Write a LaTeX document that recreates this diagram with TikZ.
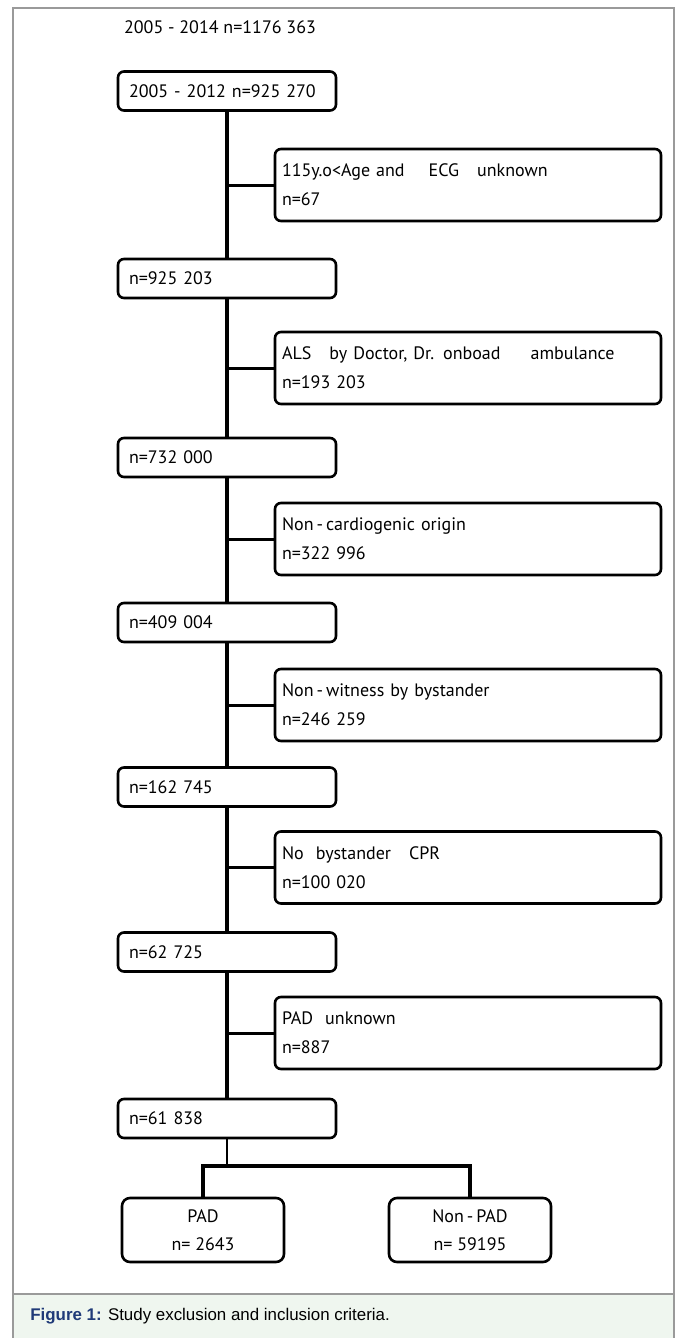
\documentclass[tikz,border=0pt]{standalone}
\usepackage{fontspec}
\setmainfont{PT Sans}
\newfontfamily\capfont{Liberation Sans}

\definecolor{capblue}{HTML}{1F3A78}
\definecolor{capgreen}{HTML}{EFF6EF}
\definecolor{framegray}{HTML}{9A9A9A}

\tikzset{
  mainbox/.style={draw, line width=1.3pt, rounded corners=3pt, text width=98pt,
    inner xsep=5.5pt, minimum height=19.5pt, align=left,
    font=\fontsize{9}{10}\selectfont},
  exbox/.style={draw, line width=1.3pt, rounded corners=3pt, text width=186pt,
    inner xsep=3.5pt, minimum height=36pt, align=left,
    font=\fontsize{9}{14.5}\selectfont},
  endbox/.style={draw, line width=1.3pt, rounded corners=4pt, minimum width=81pt,
    minimum height=32pt, align=center, font=\fontsize{9}{14}\selectfont},
  spine/.style={line width=2pt},
  branch/.style={line width=1.5pt},
}

\begin{document}
\begin{tikzpicture}[x=0.5pt,y=-0.5pt]

    \useasboundingbox (0,0) rectangle (676,1338);

    % Frame and caption band
    \fill[capgreen] (13,1294) rectangle (674,1338);
    \draw[framegray, line width=0.8pt] (13,1338) -- (13,8) -- (674,8) -- (674,1338);
    \draw[framegray, line width=0.8pt] (13,1294) -- (674,1294);
    \node[anchor=west, inner sep=0pt, font=\capfont\fontsize{8.45}{10}\selectfont] (caption) at (30,1316)
      {\textbf{\color{capblue}Figure 1:} Study exclusion and inclusion criteria.};

    % Whole period
    \node[font=\fontsize{9}{10}\selectfont] (total) at (220,27) {2005 - 2014 n=1176 363};

    % Remaining population after each step
    \foreach \i/\y/\t in {1/91/{2005 - 2012 n=925 270},
                          2/278.5/{n=925 203},
                          3/457.5/{n=732 000},
                          4/622.5/{n=409 004},
                          5/787/{n=162 745},
                          6/952/{n=62 725},
                          7/1118.5/{n=61 838}} {
      \node[mainbox] (m\i) at (227,\y) {\t};
    }

    % Exclusions
    \foreach \i/\y/\a/\b in {1/185/{115y.o<Age and\ \ \ \ ECG\ \ \ unknown}/{n=67},
                             2/368/{ALS\ \ \ by Doctor, Dr. onboad\ \ \ \ \ ambulance}/{n=193 203},
                             3/539/{Non\,-\,cardiogenic origin}/{n=322 996},
                             4/705/{Non\,-\,witness by bystander}/{n=246 259},
                             5/867.5/{No\ \ bystander\ \ \ CPR}/{n=100 020},
                             6/1033/{PAD\ \ unknown}/{n=887}} {
      \node[exbox] (e\i) at (468,\y) {\a\\\b};
      \draw[branch] (e\i.west) -- (e\i.west -| m1.south);
    }

    % Spine
    \foreach \i [evaluate=\i as \j using int(\i+1)] in {1,...,6} {
      \draw[spine] (m\i) -- (m\j);
    }

    % Final split
    \node[endbox] (pad)    at (203,1230) {PAD\\n= 2643};
    \node[endbox] (nonpad) at (470,1230) {Non\,-\,PAD\\n= 59195};
    \coordinate (split) at (227,1166);

    \draw[line width=1pt] (m7) -- (split);
    \draw[spine] (pad.north) -- (pad.north |- split) -- (nonpad.north |- split) -- (nonpad.north);

  \end{tikzpicture}
\end{document}
